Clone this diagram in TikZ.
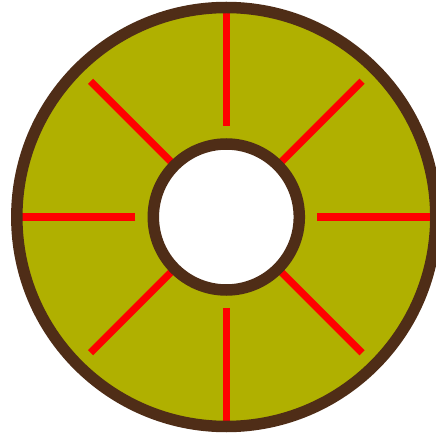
\documentclass[tikz,border=0pt]{standalone}
\usetikzlibrary{calc}
\definecolor{olivefill}{RGB}{176,176,0}
\definecolor{rimbrown}{RGB}{79,45,23}
\definecolor{spokered}{RGB}{255,0,0}
\tikzset{
  rim/.style={draw=rimbrown, line width=11.5pt},
  spoke/.style={draw=spokered, line width=7.3pt, line cap=butt},
}
\begin{document}
\begin{tikzpicture}[x=1pt,y=-1pt]
\useasboundingbox (0,0) rectangle (436,435);
\clip (0,0) rectangle (436,435);
\coordinate (c) at (226.3,217);
% disc fill
\fill[olivefill] (c) circle[radius=209.5];
% spokes
\foreach \a/\ri/\ro in {0/91/210,90/91/210,180/91/210,270/91/210,45/75/192,135/75/192,225/75/192,315/75/192}{
  \draw[spoke] ($(c)+(\a:\ri)$) -- ($(c)+(\a:\ro)$);
}
% rims
\draw[rim] (c) circle[radius=209.5];
\draw[rim, fill=white] (c) circle[radius=73];
\end{tikzpicture}
\end{document}
